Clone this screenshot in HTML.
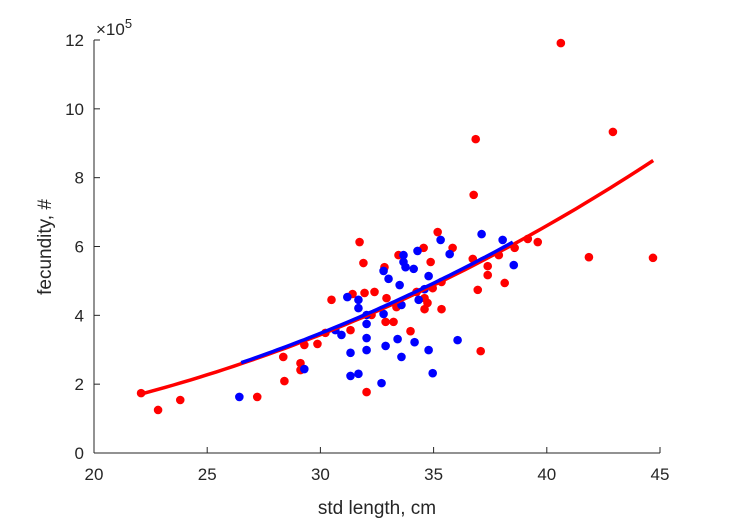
<!DOCTYPE html>
<html><head><meta charset="utf-8"><style>
body{margin:0;background:#fff}
svg{display:block;font-family:"Liberation Sans",sans-serif}
</style></head><body>
<svg id="chart" width="729" height="521" viewBox="0 0 729 521" xmlns="http://www.w3.org/2000/svg">
<rect width="729" height="521" fill="#fff"/>
<g id="marks"></g>
<g id="axes"></g>
</svg>
<script>
const xTicks=[20,25,30,35,40,45];
const yTicks=[0,2,4,6,8,10,12];
const redX=[22.08,22.83,23.81,27.21,28.36,28.41,29.12,29.12,29.29,29.87,30.22,30.49,31.33,31.42,31.73,31.95,31.90,32.04,32.26,32.39,32.83,32.88,33.23,32.92,33.36,33.45,33.98,34.25,34.56,34.60,34.73,34.60,34.87,34.96,35.18,35.35,35.35,35.84,36.73,36.77,36.86,36.95,37.08,37.39,37.39,37.88,38.14,38.58,39.16,39.60,40.62,41.86,42.92,44.69];
const redY=[1.74,1.25,1.54,1.63,2.79,2.09,2.61,2.41,3.14,3.17,3.49,4.45,3.57,4.62,6.13,4.65,5.52,1.77,4.01,4.68,5.40,3.81,3.81,4.50,4.24,5.75,3.54,4.68,5.96,4.50,4.36,4.18,5.55,4.79,6.42,4.97,4.18,5.96,5.64,7.50,9.12,4.74,2.96,5.43,5.17,5.75,4.94,5.96,6.22,6.13,11.91,5.69,9.33,5.67];
const blueX=[26.42,29.29,30.66,30.93,31.19,31.33,31.33,31.68,31.68,31.68,32.04,32.04,32.04,32.04,32.70,32.79,32.79,32.88,33.01,33.41,33.50,33.58,33.58,33.67,33.67,33.76,34.12,34.16,34.29,34.34,34.60,34.78,34.78,34.96,35.31,35.71,36.06,37.12,38.05,38.54];
const blueY=[1.63,2.44,3.57,3.43,4.53,2.91,2.24,4.45,4.21,2.30,4.01,3.75,3.34,2.99,2.03,5.29,4.04,3.11,5.06,3.31,4.88,4.30,2.79,5.75,5.55,5.40,5.35,3.22,5.87,4.45,4.76,5.14,2.99,2.32,6.19,5.78,3.28,6.36,6.19,5.46];
const redFit=[22,44.7,1.7,2.27];   // xmin,xmax,coef at 22,exponent
const blueFit=[26.5,38.5,1.72,2.27];

const NS="http://www.w3.org/2000/svg";
const L=94,R=660,T=40,B=453;
const sx=v=>L+(v-20)/25*(R-L);
const sy=v=>B-v/12*(B-T);
const marks=document.getElementById('marks'),axes=document.getElementById('axes');
function mk(tag,at,parent){const e=document.createElementNS(NS,tag);for(const k in at)e.setAttribute(k,at[k]);parent.appendChild(e);return e;}

function fitPath(f){let d='';for(let i=0;i<=60;i++){const x=f[0]+(f[1]-f[0])*i/60;const y=f[2]*Math.pow(x/22,f[3]);d+=(i?'L':'M')+sx(x).toFixed(1)+','+sy(y).toFixed(1);}return d;}

redX.forEach((x,i)=>{const c=mk('circle',{cx:sx(x),cy:sy(redY[i]),r:4.3,fill:'#ff0000'},marks);

});
blueX.forEach((x,i)=>{const c=mk('circle',{cx:sx(x),cy:sy(blueY[i]),r:4.3,fill:'#0000ff'},marks);

});
const rp=mk('path',{d:fitPath(redFit),stroke:'#ff0000','stroke-width':3.5,fill:'none'},marks);


const bp=mk('path',{d:fitPath(blueFit),stroke:'#0000ff','stroke-width':3.5,fill:'none'},marks);



const xa=mk('path',{d:`M${L},${B}H${R}`,stroke:'#262626','stroke-width':1,fill:'none'},axes);


const ya=mk('path',{d:`M${L},${T}V${B}`,stroke:'#262626','stroke-width':1,fill:'none'},axes);


xTicks.forEach(v=>{const x=sx(v);mk('path',{d:`M${x},${B}V${B-6}`,stroke:'#262626'},axes);
const t=mk('text',{x:x,y:B+27,'text-anchor':'middle','font-size':17,fill:'#262626'},axes);t.textContent=v;

});
yTicks.forEach(v=>{const y=sy(v);mk('path',{d:`M${L},${y}H${L+6}`,stroke:'#262626'},axes);
const t=mk('text',{x:L-10,y:y+6,'text-anchor':'end','font-size':17,fill:'#262626'},axes);t.textContent=v;

});
</script>
<svg style="position:absolute;left:0;top:0" width="729" height="521" xmlns="http://www.w3.org/2000/svg" font-family="Liberation Sans, sans-serif">
<text x="96" y="35" font-size="17" fill="#262626">×10<tspan font-size="13" dy="-7">5</tspan></text>
<text x="377" y="514" text-anchor="middle" font-size="19" fill="#262626">std length, cm</text>
<text transform="translate(51,247) rotate(-90)" text-anchor="middle" font-size="19" fill="#262626">fecundity, #</text>
</svg>
</body></html>
